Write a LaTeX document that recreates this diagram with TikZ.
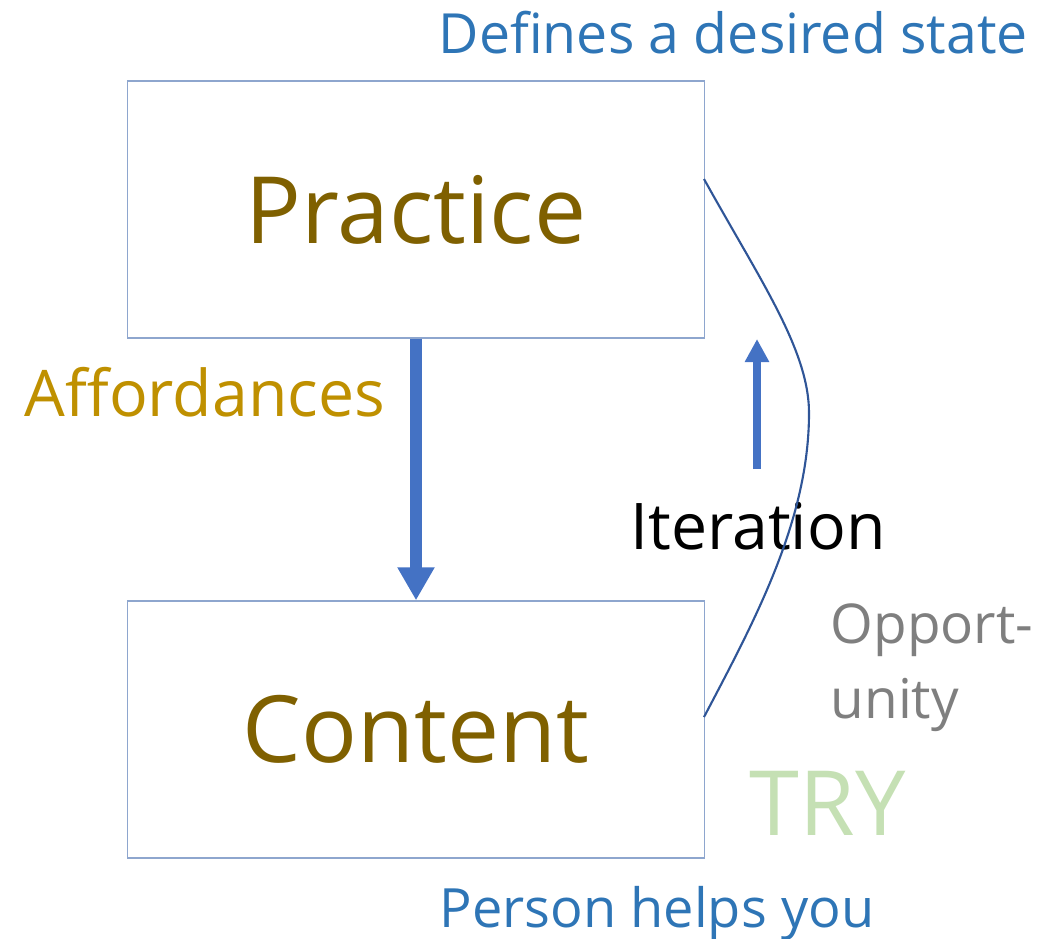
\documentclass[tikz,border=0pt]{standalone}
\usepackage{fontspec}
\setmainfont{Open Sans}
\usetikzlibrary{arrows.meta}

\definecolor{boxline}{HTML}{8EA6CE}
\definecolor{arrowblue}{HTML}{4472C4}
\definecolor{curveblue}{HTML}{2F5597}
\definecolor{noteblue}{HTML}{2E75B6}
\definecolor{darkgold}{HTML}{7F6000}
\definecolor{gold}{HTML}{BF9000}
\definecolor{notegray}{HTML}{7F7F7F}
\definecolor{trygreen}{HTML}{C5E0B4}

\begin{document}
\begin{tikzpicture}[x=0.01cm, y=-0.01cm,
    bigbox/.style={draw=boxline, line width=0.35pt, minimum width=5.76cm,
      minimum height=2.57cm, inner sep=0pt, text=darkgold,
      font=\fontsize{26.4}{32}\selectfont},
    lbl/.style={inner sep=0pt, anchor=base west}]

        \useasboundingbox (0, 0) rectangle (1064, 938);

        \node[bigbox] (practice) at (416, 209.5) {Practice};
        \node[bigbox] (content) at (416, 729.5) {Content};

        \node[lbl, text=noteblue, font=\fontsize{15.75}{19}\selectfont] (defines) at (438, 53) {Defines a desired state};
        \node[lbl, text=gold, font=\fontsize{18.3}{22}\selectfont] (afford) at (24, 416) {Affordances};
        \node[lbl, text=black, font=\fontsize{18.3}{22}\selectfont] (iter) at (630, 549) {Iteration};
        \node[lbl, text=notegray, font=\fontsize{15.6}{21.3}\selectfont, align=left] (opp) at (830, 718) {Opport-\\unity};
        \node[lbl, text=trygreen, font=\fontsize{25.6}{31}\selectfont] (try) at (749, 835) {TRY};
        \node[lbl, text=noteblue, font=\fontsize{15.4}{19}\selectfont] (person) at (439, 927) {Person helps you};

        \coordinate (itbot) at (757, 469);
        \coordinate (ittop) at (757, 339);
        \coordinate (cstart) at (704, 179);
        \coordinate (cpeak) at (809, 413);
        \coordinate (cend) at (704, 717);

        \draw[arrowblue, line width=0.12cm, -{Triangle[width=0.35cm, length=0.33cm]}] (practice) -- (content);
        \draw[arrowblue, line width=0.08cm, -{Triangle[width=0.23cm, length=0.23cm]}] (itbot) -- (ittop);

        \draw[curveblue, line width=0.6pt] (cstart) .. controls (760, 280) and (809, 350) .. (cpeak)
          .. controls (809, 520) and (755, 620) .. (cend);

\end{tikzpicture}
\end{document}
